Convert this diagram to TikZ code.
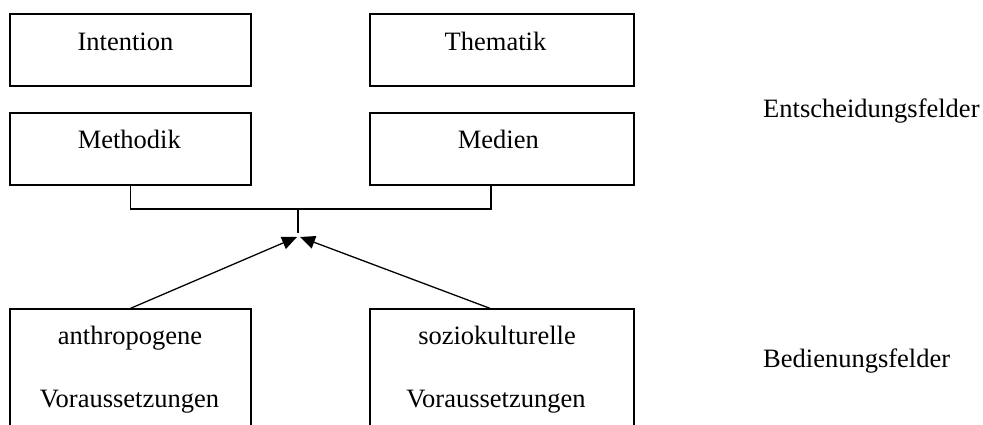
\documentclass[tikz,border=0pt]{standalone}
\usepackage{fontspec}
\setmainfont{Liberation Serif}
\usetikzlibrary{arrows.meta,calc}
\begin{document}
\begin{tikzpicture}[x=1pt,y=-1pt,
  box/.style={draw=black,line width=1.3pt,rectangle,inner sep=0pt},
  txt/.style={inner sep=0pt,anchor=base,font=\fontsize{26.5}{30}\selectfont},
  conn/.style={draw=black,line width=1.3pt},
  arr/.style={conn,-{Triangle[length=15pt,width=13pt]}}]
\useasboundingbox (0,0) rectangle (983,425);
\clip (0,0) rectangle (983,425);
% top boxes
\node[box,minimum width=241pt,minimum height=72pt] (int) at (130.5,50) {};
\node[box,minimum width=264pt,minimum height=72pt] (them) at (502,50) {};
\node[box,minimum width=241pt,minimum height=72pt] (meth) at (130.5,149) {};
\node[box,minimum width=264pt,minimum height=72pt] (med) at (502,149) {};
% bottom boxes (cut off at bottom)
\node[box,minimum width=241pt,minimum height=140pt] (anth) at (130.5,379) {};
\node[box,minimum width=264pt,minimum height=140pt] (soz) at (502,379) {};
% texts
\node[txt] (tint) at (125.5,51) {Intention};
\node[txt] (tthem) at (495.5,51) {Thematik};
\node[txt] (tmeth) at (129.3,149) {Methodik};
\node[txt] (tmed) at (498.3,149) {Medien};
\node[txt] (tanth1) at (130,344) {anthropogene};
\node[txt] (tanth2) at (129.5,407) {Voraussetzungen};
\node[txt] (tsoz1) at (497,344) {soziokulturelle};
\node[txt] (tsoz2) at (496,407) {Voraussetzungen};
\node[txt,anchor=base west] (ent) at (763,118) {Entscheidungsfelder};
\node[txt,anchor=base west] (bed) at (763,367) {Bedienungsfelder};
% connectors
\coordinate (medc) at ($(med.south)+(-11,0)$);
\coordinate (sozc) at ($(soz.north)+(-12,0)$);
\coordinate (junc) at (298,209);
\coordinate (vend) at (298,233);
\coordinate (tipL) at (297,237);
\coordinate (tipR) at (300,237);
\draw[conn] (meth.south) |- (junc) -| (medc);
\draw[conn] (junc) -- (vend);
\draw[arr] (anth.north) -- (tipL);
\draw[arr] (sozc) -- (tipR);
\end{tikzpicture}
\end{document}
